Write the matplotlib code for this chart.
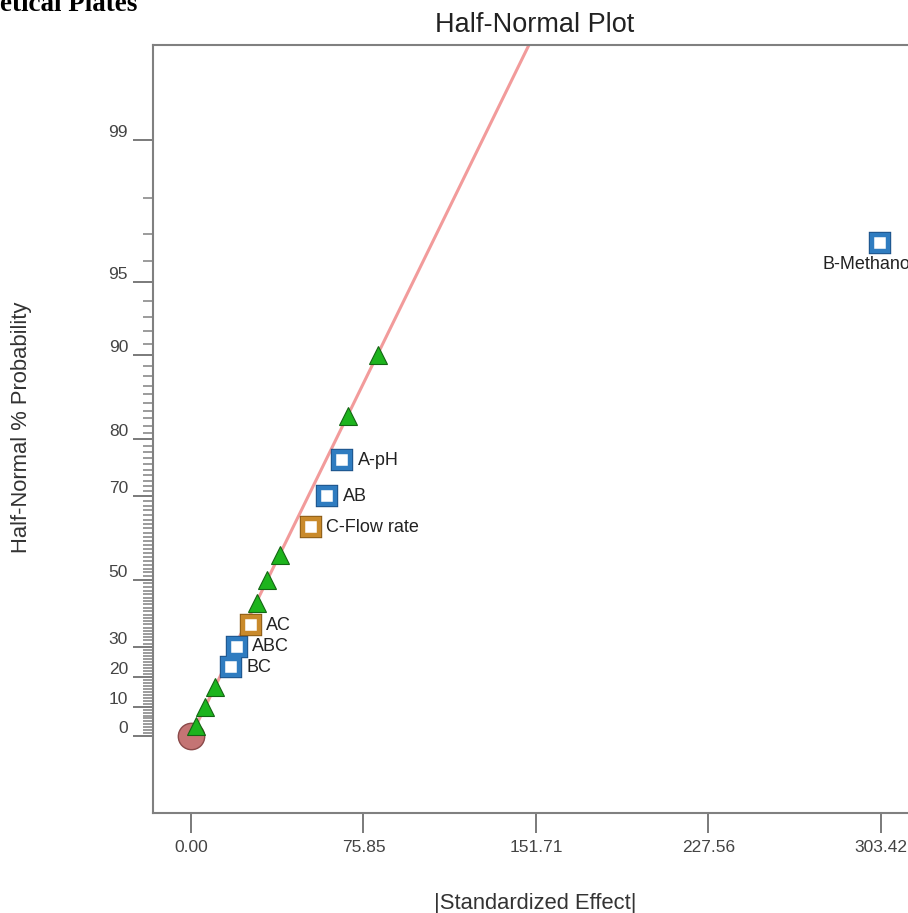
import numpy as np
import matplotlib
matplotlib.use('Agg')
import matplotlib.pyplot as plt
from matplotlib.transforms import ScaledTranslation
from statistics import NormalDist

plt.rcParams['font.family'] = ['Liberation Sans', 'DejaVu Sans']

# half-normal plot data: |effect| and half-normal % probability
origin_effect = [0.0]
origin_prob = [0.0]

tri_effects = [2.2, 6.2, 10.6, 28.9, 33.4, 39.1, 69.2, 82.1]
tri_probs = [3.33, 10.00, 16.67, 43.33, 50.00, 56.67, 83.33, 90.00]

blue_terms = ['BC', 'ABC', 'AB', 'A-pH', 'B-Methanol']
blue_effects = [17.6, 20.1, 59.9, 66.5, 303.0]
blue_probs = [23.33, 30.00, 70.00, 76.67, 96.67]

orange_terms = ['AC', 'C-Flow rate']
orange_effects = [26.4, 52.6]
orange_probs = [36.67, 63.33]

fit_effects = [0.0, 159.0]
fit_probs = [0.0, 99.86]

x_ticks = [0.00, 75.85, 151.71, 227.56, 303.42]
y_major = [0, 10, 20, 30, 50, 70, 80, 90, 95, 99]
y_minor = [v for v in range(1, 99) if v not in y_major]

nd = NormalDist()
_ppf = np.vectorize(nd.inv_cdf, otypes=[float])
_cdf = np.vectorize(nd.cdf, otypes=[float])


def fwd(p):
    p = np.clip(np.asarray(p, dtype=float), -99.999, 99.999)
    return _ppf(0.5 + p / 200.0)


def inv(z):
    return (2 * _cdf(np.asarray(z, dtype=float)) - 1) * 100.0


W, H = 908, 913
fig = plt.figure(figsize=(W / 100, H / 100), dpi=100)
ax = fig.add_axes([153 / W, 1 - 813 / H, (917 - 153) / W, (813 - 45) / H])
ax.set_yscale('function', functions=(fwd, inv))

ax.plot(fit_effects, fit_probs, color='#f29b9b', lw=2.2, zorder=2, solid_capstyle='butt')
ax.plot(origin_effect, origin_prob, 'o', ms=19, mfc='#c47474', mec='#8b4a4a', mew=1.0, zorder=3)
ax.plot(tri_effects, tri_probs, '^', ms=13, mfc='#1db41d', mec='#136613', mew=0.8, ls='none', zorder=4)

for eff, prob, main, dark in [(blue_effects, blue_probs, '#2f7cc0', '#1b4f86'),
                              (orange_effects, orange_probs, '#c98a2b', '#865816')]:
    ax.plot(eff, prob, 's', ms=11.2, mfc='white', mec=dark, mew=4.6, ls='none', zorder=5)
    ax.plot(eff, prob, 's', ms=11.2, mfc='white', mec=main, mew=3.2, ls='none', zorder=6)

for terms, eff, prob in [(blue_terms, blue_effects, blue_probs),
                         (orange_terms, orange_effects, orange_probs)]:
    for t, e, p in zip(terms, eff, prob):
        if t == 'B-Methanol':
            ax.annotate(t, (e, p), xytext=(-8.5, -15), textcoords='offset points',
                        ha='center', va='center', fontsize=13, color='#222222',
                        annotation_clip=False, zorder=7)
        else:
            ax.annotate(t, (e, p), xytext=(11, 0), textcoords='offset points',
                        ha='left', va='center', fontsize=13, color='#222222', zorder=7)

ax.set_xlim(-16.71, 319.26)
ax.set_ylim(-26.1, 99.717)

ax.set_xticks(x_ticks)
ax.set_xticklabels(['%.2f' % v for v in x_ticks])
ax.set_yticks(y_major)
ax.set_yticklabels([str(v) for v in y_major])
ax.set_yticks(y_minor, minor=True)
ax.xaxis.set_minor_locator(matplotlib.ticker.NullLocator())

ax.tick_params(axis='both', which='major', length=14.5, width=1.4, color='#7a7a7a',
               labelsize=12.5, labelcolor='#444444')
ax.tick_params(axis='x', which='major', pad=5)
ax.tick_params(axis='y', which='major', pad=3.5)
ax.tick_params(axis='y', which='minor', length=7, width=1.2, color='#8a8a8a')

shift = ScaledTranslation(0, 0.09, fig.dpi_scale_trans)
for lab in ax.get_yticklabels():
    lab.set_transform(lab.get_transform() + shift)

for sp in ax.spines.values():
    sp.set_color('#808080')
    sp.set_linewidth(1.5)

fig.text(535 / W, 1 - 25 / H, 'Half-Normal Plot', ha='center', va='center',
         fontsize=19.5, color='#222222')
fig.text(535 / W, 1 - 903 / H, '|Standardized Effect|', ha='center', va='center',
         fontsize=15.8, color='#333333')
fig.text(22 / W, 1 - 427 / H, 'Half-Normal % Probability', ha='center', va='center',
         rotation=90, fontsize=15.8, color='#333333')
fig.text(0.0, 1 - 11 / H, 'etical Plates', ha='left', va='baseline',
         family='Liberation Serif', weight='bold', fontsize=19.5, color='black')

fig.savefig('out.png', dpi=100)
